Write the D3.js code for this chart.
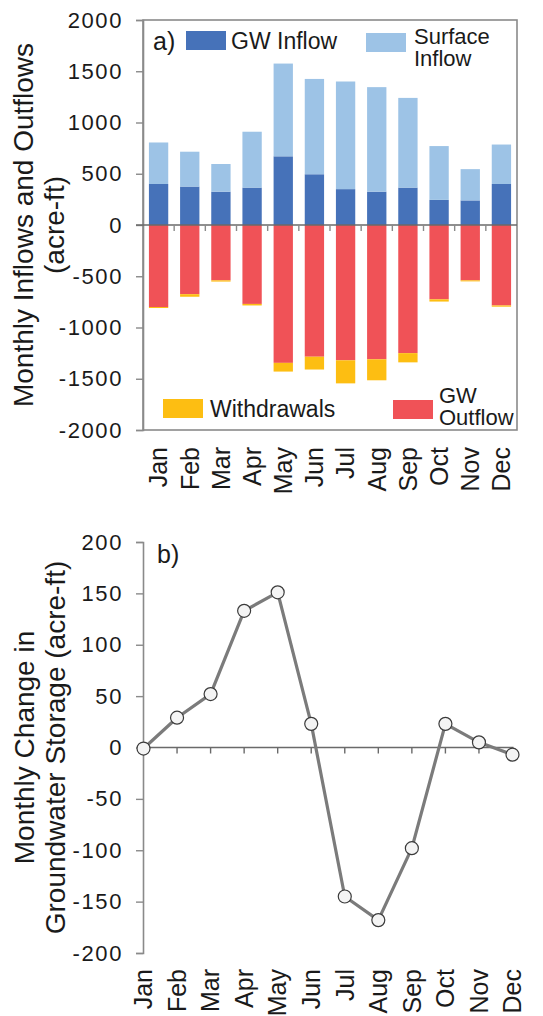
<!DOCTYPE html>
<html>
<head>
<meta charset="utf-8">
<script src="https://cdn.jsdelivr.net/npm/d3@7"></script>
<style>
  body { margin: 0; background: #ffffff; }
  text { font-family: "Liberation Sans", Arial, sans-serif; fill: #1a1a1a; }
</style>
</head>
<body>
<svg id="chart" width="543" height="1016"></svg>
<script>
// ---- data (acre-ft) ----
const months = ["Jan", "Feb", "Mar", "Apr", "May", "Jun", "Jul", "Aug", "Sep", "Oct", "Nov", "Dec"];
const gwInflow      = [400, 375, 325, 365, 670, 495, 350, 325, 365, 245, 240, 400];
const surfaceInflow = [405, 340, 270, 545, 905, 930, 1050, 1020, 875, 525, 305, 385];
// outflow magnitudes, plotted below zero
const gwOutflow     = [800, 675, 540, 770, 1345, 1285, 1320, 1310, 1250, 725, 540, 785];
const withdrawals   = [10, 25, 12, 15, 85, 125, 225, 205, 90, 22, 10, 12];
const storageChange = [-1, 29, 52, 133, 151, 23, -145, -168, -98, 23, 5, -7];

const flowTicks = [-2000, -1500, -1000, -500, 0, 500, 1000, 1500, 2000];
const storageTicks = [-200, -150, -100, -50, 0, 50, 100, 150, 200];

const seriesKeys = ["gwIn", "surf", "gwOut", "wd"];
const seriesColors = { gwIn: "#4672b9", surf: "#9dc3e6", gwOut: "#f05257", wd: "#fdbe12" };

const svg = d3.select("#chart");
const axisColor = "#8a8a8a";
const plainNumber = d => String(d);   // ASCII hyphen for negatives

// ================= panel a: stacked inflows / outflows =================
const a = { left: 143, right: 517, top: 20, bottom: 430 };

const x = d3.scaleBand().domain(months)
  .range([a.left, a.right]).paddingInner(0.38).paddingOuter(0.19);
const y = d3.scaleLinear().domain([-2000, 2000]).range([a.bottom, a.top]);

const rows = months.map((m, i) => ({
  month: m,
  gwIn: gwInflow[i],
  surf: surfaceInflow[i],
  gwOut: -gwOutflow[i],
  wd: -withdrawals[i]
}));
const stacked = d3.stack().keys(seriesKeys).offset(d3.stackOffsetDiverging)(rows);

const gA = svg.append("g");

gA.selectAll("g.series").data(stacked).join("g")
  .attr("class", "series")
  .attr("fill", d => seriesColors[d.key])
  .selectAll("rect").data(d => d).join("rect")
  .attr("x", d => x(d.data.month))
  .attr("width", x.bandwidth())
  .attr("y", d => y(Math.max(d[0], d[1])))
  .attr("height", d => Math.abs(y(d[0]) - y(d[1])));

// frame
gA.append("rect")
  .attr("x", a.left).attr("y", a.top)
  .attr("width", a.right - a.left).attr("height", a.bottom - a.top)
  .attr("fill", "none").attr("stroke", axisColor).attr("stroke-width", 1.6);

// y axis
const yAxisA = gA.append("g")
  .attr("transform", `translate(${a.left},0)`)
  .call(d3.axisLeft(y).tickValues(flowTicks).tickSize(7).tickPadding(13).tickFormat(plainNumber));
yAxisA.select(".domain").attr("stroke", axisColor).attr("stroke-width", 1.6);
yAxisA.selectAll(".tick line").attr("stroke", axisColor).attr("stroke-width", 1.4);
yAxisA.selectAll(".tick text")
  .style("font-size", "22px").style("letter-spacing", "1.6px")
  .attr("fill", "#1a1a1a");

// zero line with ticks at the category boundaries
gA.append("line")
  .attr("x1", a.left - 7).attr("x2", a.right)
  .attr("y1", y(0)).attr("y2", y(0))
  .attr("stroke", "#6a6a6a").attr("stroke-width", 1.6);
const boundaries = months.slice(1).map(m => x(m) - x.step() * x.paddingInner() / 2);
gA.selectAll("line.cat-tick").data(boundaries).join("line")
  .attr("class", "cat-tick")
  .attr("x1", d => d).attr("x2", d => d)
  .attr("y1", y(0)).attr("y2", y(0) + 6)
  .attr("stroke", axisColor).attr("stroke-width", 1.4);

// month labels
gA.selectAll("text.month").data(months).join("text")
  .attr("class", "month")
  .attr("transform", d => `translate(${x(d) + x.bandwidth() / 2},447) rotate(-90)`)
  .attr("text-anchor", "end").attr("dy", "0.35em")
  .style("font-size", "25px")
  .text(d => d);

// axis title
gA.append("text")
  .attr("transform", `translate(33,${y(0)}) rotate(-90)`)
  .attr("text-anchor", "middle").style("font-size", "28px")
  .text("Monthly Inflows and Outflows");
gA.append("text")
  .attr("transform", `translate(64,${y(0)}) rotate(-90)`)
  .attr("text-anchor", "middle").style("font-size", "28px")
  .text("(acre-ft)");

// panel tag and legend
gA.append("text").attr("x", 153).attr("y", 50).style("font-size", "25px").text("a)");

const legendItems = [
  { key: "gwIn",  lines: ["GW Inflow"],          sx: 186, sy: 31,  tx: 231, ty: [49] },
  { key: "surf",  lines: ["Surface", "Inflow"],  sx: 366, sy: 33,  tx: 414, ty: [44, 66] },
  { key: "wd",    lines: ["Withdrawals"],        sx: 163, sy: 399, tx: 210, ty: [417] },
  { key: "gwOut", lines: ["GW", "Outflow"],      sx: 393, sy: 400, tx: 439, ty: [403, 425] }
];
const leg = gA.selectAll("g.legend").data(legendItems).join("g").attr("class", "legend");
leg.append("rect")
  .attr("x", d => d.sx).attr("y", d => d.sy)
  .attr("width", 40).attr("height", 19)
  .attr("fill", d => seriesColors[d.key]);
leg.each(function (d) {
  const g = d3.select(this);
  d.lines.forEach((line, i) => {
    g.append("text").attr("x", d.tx).attr("y", d.ty[i])
      .style("font-size", d.lines.length > 1 ? "22px" : "23px").text(line);
  });
});

// ================= panel b: change in groundwater storage =================
const b = { left: 143, right: 512.5, top: 542, bottom: 953 };

const xp = d3.scalePoint().domain(months).range([b.left + 0.5, b.right]);
const yp = d3.scaleLinear().domain([-200, 200]).range([b.bottom, b.top]);

const gB = svg.append("g");

const yAxisB = gB.append("g")
  .attr("transform", `translate(${b.left},0)`)
  .call(d3.axisLeft(yp).tickValues(storageTicks).tickSize(7).tickPadding(13).tickFormat(plainNumber));
yAxisB.select(".domain").attr("stroke", axisColor).attr("stroke-width", 1.6);
yAxisB.selectAll(".tick line").attr("stroke", axisColor).attr("stroke-width", 1.4);
yAxisB.selectAll(".tick text")
  .style("font-size", "22px").style("letter-spacing", "1.6px")
  .attr("fill", "#1a1a1a");

// zero line with ticks under each month
gB.append("line")
  .attr("x1", b.left).attr("x2", b.right + 1)
  .attr("y1", yp(0)).attr("y2", yp(0))
  .attr("stroke", "#6a6a6a").attr("stroke-width", 1.6);
gB.selectAll("line.pt-tick").data(months.slice(1)).join("line")
  .attr("class", "pt-tick")
  .attr("x1", d => xp(d)).attr("x2", d => xp(d))
  .attr("y1", yp(0)).attr("y2", yp(0) + 6)
  .attr("stroke", "#6a6a6a").attr("stroke-width", 1.4);

const storagePts = months.map((m, i) => ({ month: m, value: storageChange[i] }));

gB.append("path").datum(storagePts)
  .attr("fill", "none").attr("stroke", "#7b7b7b").attr("stroke-width", 3.2)
  .attr("stroke-linejoin", "round")
  .attr("d", d3.line().x(d => xp(d.month)).y(d => yp(d.value)));

gB.selectAll("circle").data(storagePts).join("circle")
  .attr("cx", d => xp(d.month)).attr("cy", d => yp(d.value))
  .attr("r", 6.5)
  .attr("fill", "#f4f4f4").attr("stroke", "#3a3a3a").attr("stroke-width", 1.2);

gB.selectAll("text.month").data(months).join("text")
  .attr("class", "month")
  .attr("transform", d => `translate(${xp(d)},969) rotate(-90)`)
  .attr("text-anchor", "end").attr("dy", "0.35em")
  .style("font-size", "25px")
  .text(d => d);

const midB = (b.top + b.bottom) / 2;
gB.append("text")
  .attr("transform", `translate(34,${midB}) rotate(-90)`)
  .attr("text-anchor", "middle").style("font-size", "28px")
  .text("Monthly Change in");
gB.append("text")
  .attr("transform", `translate(65,${midB}) rotate(-90)`)
  .attr("text-anchor", "middle").style("font-size", "28px")
  .text("Groundwater Storage (acre-ft)");

gB.append("text").attr("x", 157).attr("y", 563).style("font-size", "25px").text("b)");
</script>
</body>
</html>
